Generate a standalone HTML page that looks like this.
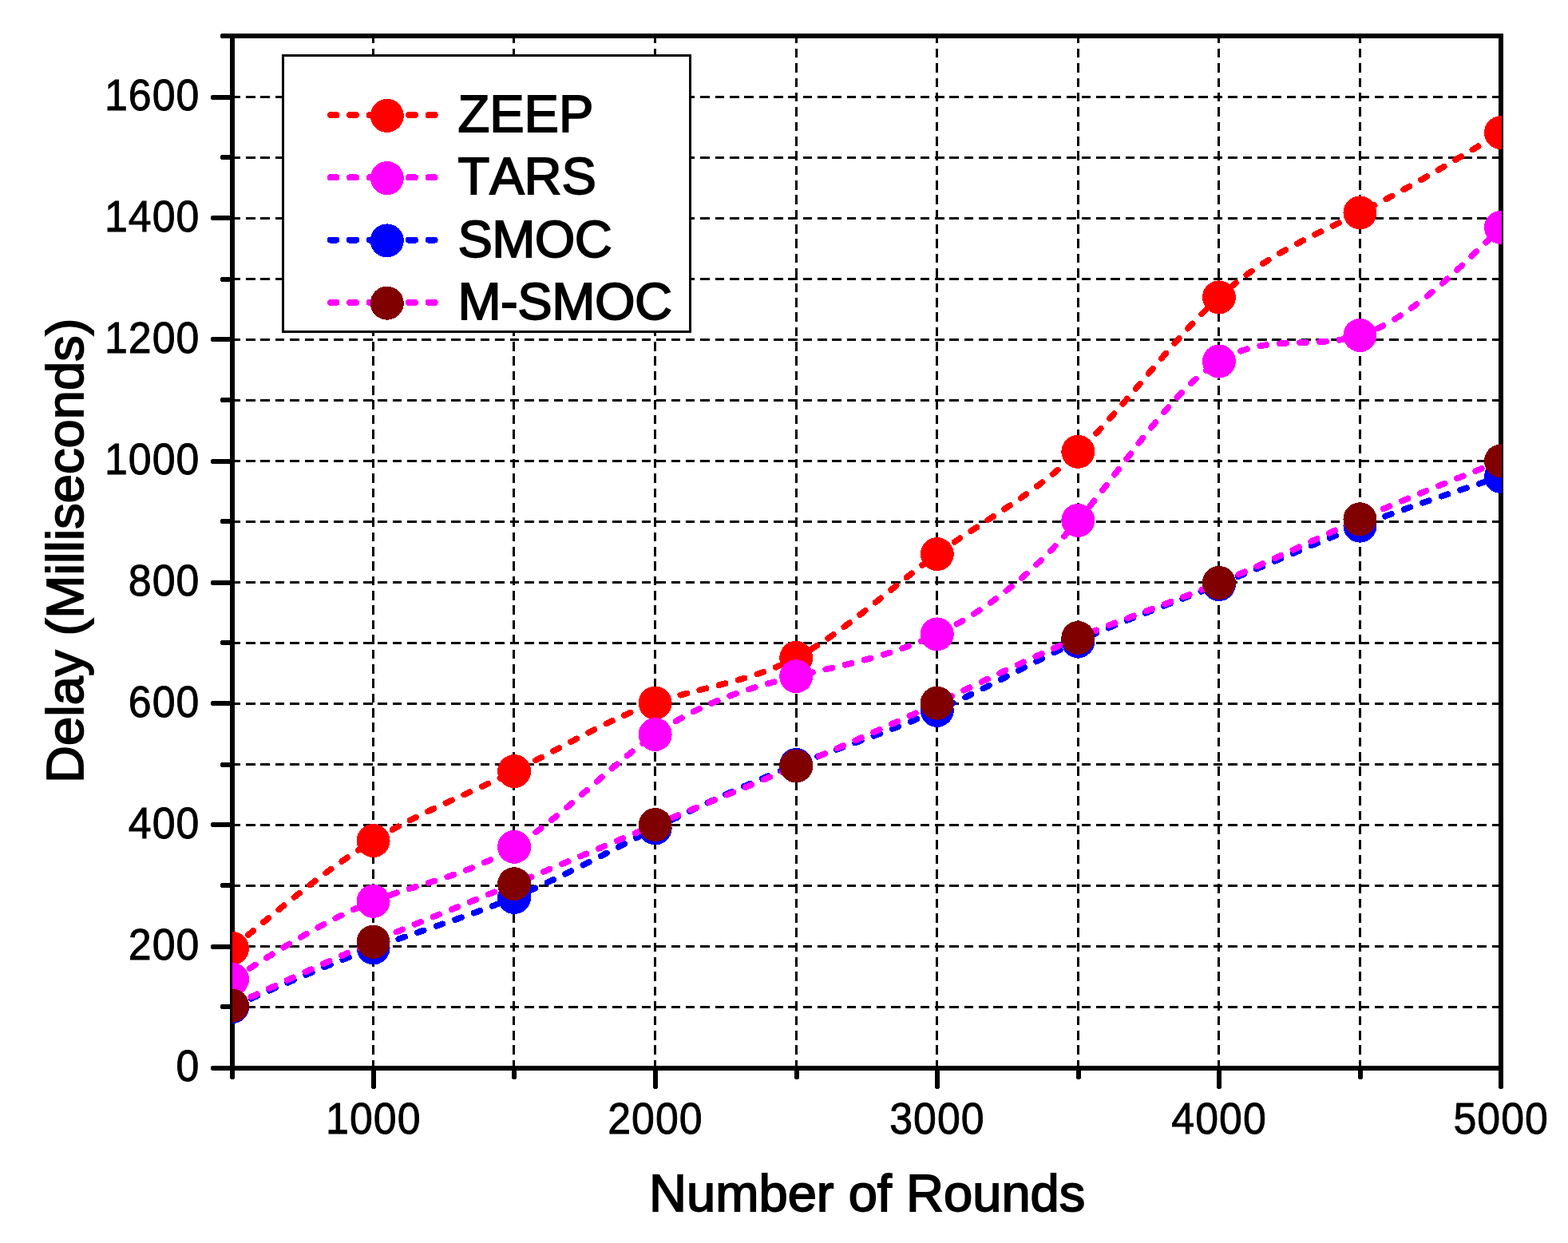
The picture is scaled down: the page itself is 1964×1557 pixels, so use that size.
<!DOCTYPE html>
<html lang="en"><head><meta charset="utf-8"><title>Delay vs Number of Rounds</title>
<style>html,body{margin:0;padding:0;background:#fff}body{width:1964px;height:1557px}svg{display:block}text{font-family:"Liberation Sans",sans-serif;fill:#000;stroke:#000;stroke-width:0.9;stroke-linejoin:miter;font-kerning:none;font-feature-settings:"kern" 0,"liga" 0;white-space:pre}</style>
</head><body>
<svg width="1964" height="1557" viewBox="0 0 1964 1557" shape-rendering="crispEdges">
<rect x="0" y="0" width="1964" height="1557" fill="#fff"/>
<defs><clipPath id="plot"><rect x="291" y="45" width="1590" height="1293"/></clipPath></defs>
<g stroke="#000" stroke-width="3" fill="none" stroke-dasharray="11.6 6.76">
<line x1="289.7" y1="1261.5" x2="1880" y2="1261.5"/>
<line x1="289.7" y1="1185.5" x2="1880" y2="1185.5"/>
<line x1="289.7" y1="1109.5" x2="1880" y2="1109.5"/>
<line x1="289.7" y1="1033.5" x2="1880" y2="1033.5"/>
<line x1="289.7" y1="957.5" x2="1880" y2="957.5"/>
<line x1="289.7" y1="881.5" x2="1880" y2="881.5"/>
<line x1="289.7" y1="805.5" x2="1880" y2="805.5"/>
<line x1="289.7" y1="729.5" x2="1880" y2="729.5"/>
<line x1="289.7" y1="653.5" x2="1880" y2="653.5"/>
<line x1="289.7" y1="577.5" x2="1880" y2="577.5"/>
<line x1="289.7" y1="501.5" x2="1880" y2="501.5"/>
<line x1="289.7" y1="425.5" x2="1880" y2="425.5"/>
<line x1="289.7" y1="349.5" x2="1880" y2="349.5"/>
<line x1="289.7" y1="273.5" x2="1880" y2="273.5"/>
<line x1="289.7" y1="197.5" x2="1880" y2="197.5"/>
<line x1="289.7" y1="121.5" x2="1880" y2="121.5"/>
<line x1="467.5" y1="42.45" x2="467.5" y2="1338"/>
<line x1="643.5" y1="42.45" x2="643.5" y2="1338"/>
<line x1="820.5" y1="42.45" x2="820.5" y2="1338"/>
<line x1="997.5" y1="42.45" x2="997.5" y2="1338"/>
<line x1="1173.5" y1="42.45" x2="1173.5" y2="1338"/>
<line x1="1350.5" y1="42.45" x2="1350.5" y2="1338"/>
<line x1="1526.5" y1="42.45" x2="1526.5" y2="1338"/>
<line x1="1703.5" y1="42.45" x2="1703.5" y2="1338"/>
</g>
<g stroke="#000" stroke-width="6" fill="none" stroke-linecap="butt">
<line x1="291" y1="42" x2="291" y2="1341"/>
<line x1="1880" y1="42" x2="1880" y2="1341"/>
<line x1="288" y1="45" x2="1883" y2="45"/>
<line x1="288" y1="1338" x2="1883" y2="1338"/>
</g>
<g stroke="#000" stroke-width="6" fill="none" stroke-linecap="round">
<line x1="291" y1="1338" x2="267" y2="1338"/>
<line x1="291" y1="1261" x2="279" y2="1261"/>
<line x1="291" y1="1186" x2="267" y2="1186"/>
<line x1="291" y1="1109" x2="279" y2="1109"/>
<line x1="291" y1="1033" x2="267" y2="1033"/>
<line x1="291" y1="958" x2="279" y2="958"/>
<line x1="291" y1="881" x2="267" y2="881"/>
<line x1="291" y1="805" x2="279" y2="805"/>
<line x1="291" y1="730" x2="267" y2="730"/>
<line x1="291" y1="653" x2="279" y2="653"/>
<line x1="291" y1="578" x2="267" y2="578"/>
<line x1="291" y1="501" x2="279" y2="501"/>
<line x1="291" y1="425" x2="267" y2="425"/>
<line x1="291" y1="350" x2="279" y2="350"/>
<line x1="291" y1="273" x2="267" y2="273"/>
<line x1="291" y1="197" x2="279" y2="197"/>
<line x1="291" y1="122" x2="267" y2="122"/>
<line x1="291" y1="45" x2="279" y2="45"/>
<line x1="291" y1="1338" x2="291" y2="1349.5"/>
<line x1="468" y1="1338" x2="468" y2="1361.5"/>
<line x1="644" y1="1338" x2="644" y2="1349.5"/>
<line x1="821" y1="1338" x2="821" y2="1361.5"/>
<line x1="998" y1="1338" x2="998" y2="1349.5"/>
<line x1="1174" y1="1338" x2="1174" y2="1361.5"/>
<line x1="1351" y1="1338" x2="1351" y2="1349.5"/>
<line x1="1527" y1="1338" x2="1527" y2="1361.5"/>
<line x1="1704" y1="1338" x2="1704" y2="1349.5"/>
<line x1="1880" y1="1338" x2="1880" y2="1361.5"/>
</g>
<g clip-path="url(#plot)">
<polyline points="291,1187.9 292.99,1186.23 294.97,1184.56 296.96,1182.89 298.94,1181.22 300.93,1179.55 302.92,1177.88 304.9,1176.21 306.89,1174.55 308.88,1172.88 310.86,1171.22 312.85,1169.55 314.83,1167.89 316.82,1166.23 318.81,1164.57 320.79,1162.91 322.78,1161.25 324.77,1159.6 326.75,1157.95 328.74,1156.3 330.73,1154.65 332.71,1153 334.7,1151.36 336.68,1149.72 338.67,1148.08 340.66,1146.45 342.64,1144.81 344.63,1143.18 346.62,1141.56 348.6,1139.93 350.59,1138.31 352.57,1136.7 354.56,1135.09 356.55,1133.48 358.53,1131.87 360.52,1130.27 362.5,1128.68 364.49,1127.08 366.48,1125.49 368.46,1123.91 370.45,1122.33 372.44,1120.76 374.42,1119.19 376.41,1117.62 378.39,1116.06 380.38,1114.51 382.37,1112.96 384.35,1111.41 386.34,1109.88 388.33,1108.34 390.31,1106.82 392.3,1105.29 394.28,1103.78 396.27,1102.27 398.26,1100.77 400.24,1099.27 402.23,1097.78 404.22,1096.3 406.2,1094.82 408.19,1093.35 410.18,1091.88 412.16,1090.43 414.15,1088.98 416.13,1087.54 418.12,1086.1 420.11,1084.67 422.09,1083.25 424.08,1081.84 426.06,1080.44 428.05,1079.04 430.04,1077.65 432.02,1076.27 434.01,1074.9 436,1073.54 437.98,1072.18 439.97,1070.84 441.96,1069.5 443.94,1068.17 445.93,1066.85 447.91,1065.54 449.9,1064.24 451.89,1062.95 453.87,1061.67 455.86,1060.39 457.85,1059.13 459.83,1057.88 461.82,1056.63 463.8,1055.4 465.79,1054.18 467.78,1052.97 469.76,1051.76 471.75,1050.57 473.74,1049.39 475.72,1048.22 477.71,1047.05 479.69,1045.9 481.68,1044.76 483.67,1043.62 485.65,1042.5 487.64,1041.38 489.62,1040.27 491.61,1039.17 493.6,1038.08 495.58,1036.99 497.57,1035.92 499.56,1034.85 501.54,1033.79 503.53,1032.74 505.51,1031.69 507.5,1030.65 509.49,1029.62 511.47,1028.6 513.46,1027.58 515.45,1026.56 517.43,1025.56 519.42,1024.56 521.4,1023.56 523.39,1022.57 525.38,1021.59 527.36,1020.61 529.35,1019.64 531.34,1018.67 533.32,1017.71 535.31,1016.75 537.3,1015.79 539.28,1014.84 541.27,1013.9 543.25,1012.95 545.24,1012.01 547.23,1011.08 549.21,1010.15 551.2,1009.22 553.18,1008.29 555.17,1007.37 557.16,1006.45 559.14,1005.53 561.13,1004.61 563.12,1003.7 565.1,1002.79 567.09,1001.88 569.08,1000.97 571.06,1000.06 573.05,999.16 575.03,998.25 577.02,997.35 579.01,996.45 580.99,995.54 582.98,994.64 584.97,993.74 586.95,992.84 588.94,991.94 590.92,991.03 592.91,990.13 594.9,989.23 596.88,988.32 598.87,987.42 600.86,986.51 602.84,985.6 604.83,984.69 606.81,983.78 608.8,982.86 610.79,981.95 612.77,981.03 614.76,980.11 616.75,979.19 618.73,978.26 620.72,977.33 622.7,976.4 624.69,975.46 626.68,974.52 628.66,973.58 630.65,972.63 632.63,971.68 634.62,970.73 636.61,969.77 638.59,968.8 640.58,967.83 642.57,966.86 644.55,965.88 646.54,964.9 648.53,963.91 650.51,962.91 652.5,961.92 654.48,960.91 656.47,959.91 658.46,958.89 660.44,957.88 662.43,956.86 664.41,955.84 666.4,954.81 668.39,953.78 670.37,952.75 672.36,951.72 674.35,950.68 676.33,949.64 678.32,948.6 680.31,947.56 682.29,946.51 684.28,945.46 686.26,944.42 688.25,943.37 690.24,942.32 692.22,941.27 694.21,940.21 696.19,939.16 698.18,938.11 700.17,937.06 702.15,936 704.14,934.95 706.13,933.9 708.11,932.85 710.1,931.8 712.09,930.75 714.07,929.7 716.06,928.65 718.04,927.61 720.03,926.57 722.02,925.53 724,924.49 725.99,923.45 727.98,922.42 729.96,921.39 731.95,920.36 733.93,919.33 735.92,918.31 737.91,917.3 739.89,916.28 741.88,915.27 743.87,914.26 745.85,913.26 747.84,912.27 749.82,911.27 751.81,910.29 753.8,909.3 755.78,908.33 757.77,907.35 759.75,906.39 761.74,905.43 763.73,904.47 765.71,903.52 767.7,902.58 769.69,901.65 771.67,900.72 773.66,899.8 775.64,898.88 777.63,897.98 779.62,897.08 781.6,896.19 783.59,895.3 785.58,894.43 787.56,893.56 789.55,892.7 791.54,891.85 793.52,891.01 795.51,890.18 797.49,889.35 799.48,888.54 801.47,887.74 803.45,886.94 805.44,886.16 807.43,885.38 809.41,884.62 811.4,883.87 813.38,883.13 815.37,882.39 817.36,881.67 819.34,880.97 821.33,880.27 823.32,879.58 825.3,878.91 827.29,878.25 829.27,877.59 831.26,876.95 833.25,876.32 835.23,875.69 837.22,875.08 839.21,874.47 841.19,873.88 843.18,873.29 845.16,872.7 847.15,872.13 849.14,871.56 851.12,871 853.11,870.45 855.1,869.9 857.08,869.36 859.07,868.82 861.05,868.29 863.04,867.76 865.03,867.24 867.01,866.72 869,866.2 870.99,865.69 872.97,865.18 874.96,864.67 876.94,864.16 878.93,863.66 880.92,863.16 882.9,862.65 884.89,862.15 886.88,861.65 888.86,861.15 890.85,860.65 892.83,860.15 894.82,859.65 896.81,859.14 898.79,858.64 900.78,858.13 902.76,857.62 904.75,857.11 906.74,856.59 908.72,856.07 910.71,855.55 912.7,855.02 914.68,854.49 916.67,853.95 918.65,853.41 920.64,852.86 922.63,852.31 924.61,851.75 926.6,851.18 928.59,850.61 930.57,850.03 932.56,849.44 934.55,848.84 936.53,848.24 938.52,847.63 940.5,847 942.49,846.37 944.48,845.73 946.46,845.08 948.45,844.42 950.44,843.74 952.42,843.06 954.41,842.36 956.39,841.65 958.38,840.93 960.37,840.2 962.35,839.46 964.34,838.7 966.33,837.93 968.31,837.14 970.3,836.34 972.28,835.52 974.27,834.69 976.26,833.85 978.24,832.99 980.23,832.11 982.22,831.22 984.2,830.31 986.19,829.38 988.17,828.43 990.16,827.47 992.15,826.49 994.13,825.49 996.12,824.47 998.11,823.44 1000.09,822.38 1002.08,821.3 1004.06,820.21 1006.05,819.1 1008.04,817.97 1010.02,816.82 1012.01,815.66 1014,814.47 1015.98,813.28 1017.97,812.06 1019.95,810.83 1021.94,809.58 1023.93,808.32 1025.91,807.05 1027.9,805.76 1029.88,804.45 1031.87,803.13 1033.86,801.8 1035.84,800.45 1037.83,799.09 1039.82,797.72 1041.8,796.34 1043.79,794.95 1045.78,793.54 1047.76,792.12 1049.75,790.69 1051.73,789.25 1053.72,787.8 1055.71,786.34 1057.69,784.87 1059.68,783.39 1061.66,781.91 1063.65,780.41 1065.64,778.91 1067.62,777.4 1069.61,775.88 1071.6,774.35 1073.58,772.82 1075.57,771.28 1077.56,769.73 1079.54,768.18 1081.53,766.62 1083.51,765.06 1085.5,763.49 1087.49,761.92 1089.47,760.34 1091.46,758.76 1093.45,757.18 1095.43,755.59 1097.42,754 1099.4,752.41 1101.39,750.81 1103.38,749.21 1105.36,747.62 1107.35,746.02 1109.34,744.42 1111.32,742.81 1113.31,741.21 1115.29,739.61 1117.28,738.01 1119.27,736.41 1121.25,734.81 1123.24,733.22 1125.22,731.62 1127.21,730.03 1129.2,728.44 1131.18,726.85 1133.17,725.26 1135.16,723.68 1137.14,722.11 1139.13,720.53 1141.12,718.96 1143.1,717.4 1145.09,715.84 1147.07,714.29 1149.06,712.74 1151.05,711.2 1153.03,709.66 1155.02,708.13 1157.01,706.61 1158.99,705.1 1160.98,703.59 1162.96,702.1 1164.95,700.61 1166.94,699.13 1168.92,697.66 1170.91,696.19 1172.89,694.74 1174.88,693.3 1176.87,691.87 1178.85,690.45 1180.84,689.03 1182.83,687.63 1184.81,686.24 1186.8,684.85 1188.79,683.47 1190.77,682.1 1192.76,680.74 1194.74,679.38 1196.73,678.03 1198.72,676.69 1200.7,675.35 1202.69,674.02 1204.68,672.69 1206.66,671.37 1208.65,670.05 1210.63,668.74 1212.62,667.43 1214.61,666.12 1216.59,664.82 1218.58,663.52 1220.57,662.22 1222.55,660.93 1224.54,659.63 1226.52,658.34 1228.51,657.05 1230.5,655.76 1232.48,654.47 1234.47,653.18 1236.45,651.89 1238.44,650.6 1240.43,649.3 1242.41,648.01 1244.4,646.72 1246.39,645.42 1248.37,644.12 1250.36,642.82 1252.35,641.51 1254.33,640.2 1256.32,638.89 1258.3,637.57 1260.29,636.25 1262.28,634.92 1264.26,633.59 1266.25,632.25 1268.24,630.91 1270.22,629.56 1272.21,628.2 1274.19,626.84 1276.18,625.47 1278.17,624.09 1280.15,622.7 1282.14,621.31 1284.12,619.91 1286.11,618.49 1288.1,617.07 1290.08,615.64 1292.07,614.2 1294.06,612.75 1296.04,611.28 1298.03,609.81 1300.01,608.32 1302,606.83 1303.99,605.32 1305.97,603.8 1307.96,602.26 1309.95,600.71 1311.93,599.15 1313.92,597.57 1315.9,595.98 1317.89,594.38 1319.88,592.76 1321.86,591.13 1323.85,589.48 1325.84,587.81 1327.82,586.13 1329.81,584.43 1331.8,582.71 1333.78,580.97 1335.77,579.22 1337.75,577.45 1339.74,575.66 1341.73,573.86 1343.71,572.03 1345.7,570.18 1347.68,568.32 1349.67,566.43 1351.66,564.53 1353.64,562.6 1355.63,560.65 1357.62,558.69 1359.6,556.7 1361.59,554.7 1363.58,552.68 1365.56,550.64 1367.55,548.58 1369.53,546.51 1371.52,544.42 1373.51,542.32 1375.49,540.2 1377.48,538.07 1379.47,535.92 1381.45,533.76 1383.44,531.59 1385.42,529.41 1387.41,527.21 1389.4,525 1391.38,522.78 1393.37,520.55 1395.36,518.31 1397.34,516.06 1399.33,513.8 1401.31,511.53 1403.3,509.25 1405.29,506.97 1407.27,504.68 1409.26,502.38 1411.25,500.08 1413.23,497.77 1415.22,495.46 1417.2,493.14 1419.19,490.82 1421.18,488.49 1423.16,486.16 1425.15,483.83 1427.13,481.49 1429.12,479.16 1431.11,476.82 1433.09,474.48 1435.08,472.14 1437.07,469.8 1439.05,467.47 1441.04,465.13 1443.03,462.8 1445.01,460.46 1447,458.13 1448.98,455.81 1450.97,453.48 1452.96,451.17 1454.94,448.85 1456.93,446.54 1458.91,444.24 1460.9,441.94 1462.89,439.65 1464.87,437.37 1466.86,435.09 1468.85,432.83 1470.83,430.57 1472.82,428.32 1474.81,426.08 1476.79,423.85 1478.78,421.63 1480.76,419.42 1482.75,417.22 1484.74,415.04 1486.72,412.87 1488.71,410.71 1490.69,408.56 1492.68,406.43 1494.67,404.31 1496.65,402.21 1498.64,400.12 1500.63,398.05 1502.61,396 1504.6,393.96 1506.59,391.94 1508.57,389.94 1510.56,387.95 1512.54,385.99 1514.53,384.04 1516.52,382.12 1518.5,380.21 1520.49,378.33 1522.48,376.46 1524.46,374.62 1526.45,372.8 1528.43,371 1530.42,369.23 1532.41,367.48 1534.39,365.75 1536.38,364.04 1538.37,362.36 1540.35,360.69 1542.34,359.05 1544.32,357.42 1546.31,355.82 1548.3,354.24 1550.28,352.67 1552.27,351.13 1554.26,349.6 1556.24,348.1 1558.23,346.61 1560.21,345.14 1562.2,343.68 1564.19,342.25 1566.17,340.83 1568.16,339.43 1570.14,338.04 1572.13,336.67 1574.12,335.32 1576.1,333.98 1578.09,332.66 1580.08,331.35 1582.06,330.06 1584.05,328.78 1586.04,327.51 1588.02,326.26 1590.01,325.03 1591.99,323.8 1593.98,322.59 1595.97,321.39 1597.95,320.2 1599.94,319.03 1601.92,317.86 1603.91,316.71 1605.9,315.57 1607.88,314.44 1609.87,313.32 1611.86,312.21 1613.84,311.11 1615.83,310.01 1617.82,308.93 1619.8,307.86 1621.79,306.79 1623.77,305.73 1625.76,304.68 1627.75,303.64 1629.73,302.61 1631.72,301.58 1633.71,300.56 1635.69,299.54 1637.68,298.53 1639.66,297.53 1641.65,296.53 1643.64,295.53 1645.62,294.54 1647.61,293.56 1649.6,292.58 1651.58,291.6 1653.57,290.63 1655.55,289.66 1657.54,288.69 1659.53,287.73 1661.51,286.76 1663.5,285.8 1665.49,284.84 1667.47,283.89 1669.46,282.93 1671.44,281.97 1673.43,281.02 1675.42,280.06 1677.4,279.11 1679.39,278.15 1681.38,277.19 1683.36,276.23 1685.35,275.27 1687.33,274.31 1689.32,273.35 1691.31,272.38 1693.29,271.41 1695.28,270.44 1697.27,269.46 1699.25,268.48 1701.24,267.5 1703.22,266.51 1705.21,265.52 1707.2,264.52 1709.18,263.52 1711.17,262.51 1713.15,261.5 1715.14,260.49 1717.13,259.47 1719.11,258.44 1721.1,257.42 1723.09,256.38 1725.07,255.35 1727.06,254.31 1729.05,253.26 1731.03,252.22 1733.02,251.16 1735,250.11 1736.99,249.05 1738.98,247.98 1740.96,246.92 1742.95,245.85 1744.93,244.77 1746.92,243.69 1748.91,242.61 1750.89,241.53 1752.88,240.44 1754.87,239.35 1756.85,238.25 1758.84,237.15 1760.83,236.05 1762.81,234.95 1764.8,233.84 1766.78,232.73 1768.77,231.61 1770.76,230.5 1772.74,229.38 1774.73,228.26 1776.72,227.13 1778.7,226 1780.69,224.87 1782.67,223.74 1784.66,222.6 1786.65,221.47 1788.63,220.32 1790.62,219.18 1792.61,218.04 1794.59,216.89 1796.58,215.74 1798.56,214.59 1800.55,213.43 1802.54,212.28 1804.52,211.12 1806.51,209.96 1808.5,208.79 1810.48,207.63 1812.47,206.46 1814.45,205.3 1816.44,204.13 1818.43,202.95 1820.41,201.78 1822.4,200.61 1824.38,199.43 1826.37,198.25 1828.36,197.07 1830.34,195.89 1832.33,194.71 1834.32,193.53 1836.3,192.35 1838.29,191.16 1840.28,189.97 1842.26,188.79 1844.25,187.6 1846.23,186.41 1848.22,185.22 1850.21,184.03 1852.19,182.84 1854.18,181.64 1856.16,180.45 1858.15,179.26 1860.14,178.06 1862.12,176.87 1864.11,175.67 1866.1,174.48 1868.08,173.28 1870.07,172.09 1872.06,170.89 1874.04,169.69 1876.03,168.49 1878.01,167.3 1880,166.1" fill="none" stroke="#ff0000" stroke-width="7.7" stroke-linecap="round" stroke-linejoin="round" stroke-dasharray="8.3 16.62" stroke-dashoffset="-0.85"/>
<circle cx="291" cy="1187.9" r="21" fill="#ff0000"/>
<circle cx="467.56" cy="1053.1" r="21" fill="#ff0000"/>
<circle cx="644.11" cy="966.1" r="21" fill="#ff0000"/>
<circle cx="820.67" cy="880.5" r="21" fill="#ff0000"/>
<circle cx="997.22" cy="823.9" r="21" fill="#ff0000"/>
<circle cx="1173.78" cy="694.1" r="21" fill="#ff0000"/>
<circle cx="1350.33" cy="565.8" r="21" fill="#ff0000"/>
<circle cx="1526.89" cy="372.4" r="21" fill="#ff0000"/>
<circle cx="1703.44" cy="266.4" r="21" fill="#ff0000"/>
<circle cx="1880" cy="166.1" r="21" fill="#ff0000"/>
<polyline points="291,1226.8 292.99,1225.54 294.97,1224.28 296.96,1223.01 298.94,1221.75 300.93,1220.49 302.92,1219.23 304.9,1217.97 306.89,1216.71 308.88,1215.45 310.86,1214.2 312.85,1212.94 314.83,1211.68 316.82,1210.43 318.81,1209.18 320.79,1207.93 322.78,1206.68 324.77,1205.44 326.75,1204.19 328.74,1202.95 330.73,1201.71 332.71,1200.48 334.7,1199.24 336.68,1198.01 338.67,1196.78 340.66,1195.56 342.64,1194.33 344.63,1193.11 346.62,1191.9 348.6,1190.68 350.59,1189.47 352.57,1188.27 354.56,1187.07 356.55,1185.87 358.53,1184.68 360.52,1183.49 362.5,1182.3 364.49,1181.12 366.48,1179.94 368.46,1178.77 370.45,1177.6 372.44,1176.44 374.42,1175.28 376.41,1174.13 378.39,1172.99 380.38,1171.84 382.37,1170.71 384.35,1169.58 386.34,1168.45 388.33,1167.34 390.31,1166.22 392.3,1165.12 394.28,1164.02 396.27,1162.92 398.26,1161.83 400.24,1160.75 402.23,1159.68 404.22,1158.61 406.2,1157.55 408.19,1156.5 410.18,1155.45 412.16,1154.41 414.15,1153.38 416.13,1152.36 418.12,1151.34 420.11,1150.34 422.09,1149.34 424.08,1148.34 426.06,1147.36 428.05,1146.39 430.04,1145.42 432.02,1144.46 434.01,1143.51 436,1142.57 437.98,1141.64 439.97,1140.71 441.96,1139.8 443.94,1138.9 445.93,1138 447.91,1137.12 449.9,1136.24 451.89,1135.37 453.87,1134.52 455.86,1133.67 457.85,1132.84 459.83,1132.01 461.82,1131.2 463.8,1130.39 465.79,1129.6 467.78,1128.81 469.76,1128.04 471.75,1127.28 473.74,1126.53 475.72,1125.79 477.71,1125.05 479.69,1124.33 481.68,1123.61 483.67,1122.91 485.65,1122.21 487.64,1121.52 489.62,1120.83 491.61,1120.16 493.6,1119.49 495.58,1118.82 497.57,1118.16 499.56,1117.51 501.54,1116.86 503.53,1116.22 505.51,1115.58 507.5,1114.95 509.49,1114.32 511.47,1113.69 513.46,1113.07 515.45,1112.44 517.43,1111.82 519.42,1111.21 521.4,1110.59 523.39,1109.98 525.38,1109.36 527.36,1108.75 529.35,1108.13 531.34,1107.52 533.32,1106.91 535.31,1106.29 537.3,1105.67 539.28,1105.06 541.27,1104.44 543.25,1103.81 545.24,1103.19 547.23,1102.56 549.21,1101.93 551.2,1101.29 553.18,1100.65 555.17,1100.01 557.16,1099.36 559.14,1098.7 561.13,1098.04 563.12,1097.38 565.1,1096.7 567.09,1096.03 569.08,1095.34 571.06,1094.65 573.05,1093.94 575.03,1093.24 577.02,1092.52 579.01,1091.79 580.99,1091.05 582.98,1090.31 584.97,1089.55 586.95,1088.79 588.94,1088.01 590.92,1087.23 592.91,1086.43 594.9,1085.62 596.88,1084.8 598.87,1083.96 600.86,1083.11 602.84,1082.25 604.83,1081.38 606.81,1080.49 608.8,1079.59 610.79,1078.67 612.77,1077.74 614.76,1076.8 616.75,1075.83 618.73,1074.86 620.72,1073.86 622.7,1072.85 624.69,1071.82 626.68,1070.78 628.66,1069.71 630.65,1068.63 632.63,1067.53 634.62,1066.42 636.61,1065.28 638.59,1064.12 640.58,1062.94 642.57,1061.75 644.55,1060.53 646.54,1059.29 648.53,1058.03 650.51,1056.75 652.5,1055.45 654.48,1054.13 656.47,1052.8 658.46,1051.44 660.44,1050.07 662.43,1048.68 664.41,1047.28 666.4,1045.85 668.39,1044.41 670.37,1042.96 672.36,1041.49 674.35,1040.01 676.33,1038.51 678.32,1036.99 680.31,1035.47 682.29,1033.93 684.28,1032.38 686.26,1030.81 688.25,1029.24 690.24,1027.65 692.22,1026.05 694.21,1024.44 696.19,1022.83 698.18,1021.2 700.17,1019.56 702.15,1017.92 704.14,1016.26 706.13,1014.6 708.11,1012.93 710.1,1011.25 712.09,1009.57 714.07,1007.88 716.06,1006.19 718.04,1004.49 720.03,1002.78 722.02,1001.07 724,999.36 725.99,997.64 727.98,995.92 729.96,994.2 731.95,992.48 733.93,990.75 735.92,989.02 737.91,987.29 739.89,985.57 741.88,983.84 743.87,982.11 745.85,980.38 747.84,978.65 749.82,976.93 751.81,975.2 753.8,973.48 755.78,971.76 757.77,970.05 759.75,968.34 761.74,966.63 763.73,964.93 765.71,963.23 767.7,961.54 769.69,959.86 771.67,958.18 773.66,956.51 775.64,954.84 777.63,953.18 779.62,951.54 781.6,949.89 783.59,948.26 785.58,946.64 787.56,945.03 789.55,943.43 791.54,941.84 793.52,940.26 795.51,938.69 797.49,937.13 799.48,935.59 801.47,934.05 803.45,932.54 805.44,931.03 807.43,929.54 809.41,928.07 811.4,926.61 813.38,925.16 815.37,923.73 817.36,922.32 819.34,920.92 821.33,919.54 823.32,918.18 825.3,916.84 827.29,915.51 829.27,914.2 831.26,912.9 833.25,911.63 835.23,910.37 837.22,909.12 839.21,907.89 841.19,906.68 843.18,905.48 845.16,904.3 847.15,903.14 849.14,901.99 851.12,900.85 853.11,899.73 855.1,898.62 857.08,897.53 859.07,896.45 861.05,895.39 863.04,894.34 865.03,893.31 867.01,892.29 869,891.28 870.99,890.29 872.97,889.31 874.96,888.34 876.94,887.38 878.93,886.44 880.92,885.51 882.9,884.6 884.89,883.69 886.88,882.8 888.86,881.92 890.85,881.05 892.83,880.19 894.82,879.35 896.81,878.51 898.79,877.69 900.78,876.87 902.76,876.07 904.75,875.28 906.74,874.5 908.72,873.73 910.71,872.97 912.7,872.22 914.68,871.48 916.67,870.75 918.65,870.03 920.64,869.31 922.63,868.61 924.61,867.91 926.6,867.23 928.59,866.55 930.57,865.88 932.56,865.22 934.55,864.57 936.53,863.93 938.52,863.29 940.5,862.66 942.49,862.04 944.48,861.43 946.46,860.82 948.45,860.22 950.44,859.63 952.42,859.04 954.41,858.46 956.39,857.88 958.38,857.32 960.37,856.75 962.35,856.2 964.34,855.65 966.33,855.1 968.31,854.56 970.3,854.03 972.28,853.5 974.27,852.97 976.26,852.45 978.24,851.94 980.23,851.43 982.22,850.92 984.2,850.41 986.19,849.91 988.17,849.42 990.16,848.93 992.15,848.44 994.13,847.95 996.12,847.47 998.11,846.99 1000.09,846.51 1002.08,846.03 1004.06,845.56 1006.05,845.09 1008.04,844.62 1010.02,844.15 1012.01,843.69 1014,843.22 1015.98,842.76 1017.97,842.3 1019.95,841.84 1021.94,841.38 1023.93,840.92 1025.91,840.46 1027.9,840 1029.88,839.54 1031.87,839.08 1033.86,838.62 1035.84,838.15 1037.83,837.69 1039.82,837.23 1041.8,836.77 1043.79,836.3 1045.78,835.84 1047.76,835.37 1049.75,834.9 1051.73,834.43 1053.72,833.95 1055.71,833.47 1057.69,833 1059.68,832.51 1061.66,832.03 1063.65,831.54 1065.64,831.05 1067.62,830.56 1069.61,830.06 1071.6,829.56 1073.58,829.05 1075.57,828.54 1077.56,828.03 1079.54,827.51 1081.53,826.99 1083.51,826.46 1085.5,825.93 1087.49,825.39 1089.47,824.84 1091.46,824.3 1093.45,823.74 1095.43,823.18 1097.42,822.61 1099.4,822.04 1101.39,821.46 1103.38,820.87 1105.36,820.28 1107.35,819.68 1109.34,819.08 1111.32,818.46 1113.31,817.84 1115.29,817.21 1117.28,816.57 1119.27,815.93 1121.25,815.27 1123.24,814.61 1125.22,813.94 1127.21,813.26 1129.2,812.57 1131.18,811.88 1133.17,811.17 1135.16,810.45 1137.14,809.73 1139.13,808.99 1141.12,808.25 1143.1,807.49 1145.09,806.73 1147.07,805.95 1149.06,805.16 1151.05,804.36 1153.03,803.55 1155.02,802.73 1157.01,801.9 1158.99,801.06 1160.98,800.2 1162.96,799.34 1164.95,798.46 1166.94,797.57 1168.92,796.66 1170.91,795.75 1172.89,794.82 1174.88,793.87 1176.87,792.92 1178.85,791.95 1180.84,790.97 1182.83,789.97 1184.81,788.97 1186.8,787.94 1188.79,786.91 1190.77,785.86 1192.76,784.8 1194.74,783.72 1196.73,782.63 1198.72,781.53 1200.7,780.41 1202.69,779.28 1204.68,778.13 1206.66,776.97 1208.65,775.8 1210.63,774.61 1212.62,773.41 1214.61,772.19 1216.59,770.96 1218.58,769.72 1220.57,768.46 1222.55,767.18 1224.54,765.89 1226.52,764.59 1228.51,763.27 1230.5,761.94 1232.48,760.59 1234.47,759.23 1236.45,757.85 1238.44,756.46 1240.43,755.05 1242.41,753.63 1244.4,752.19 1246.39,750.74 1248.37,749.27 1250.36,747.79 1252.35,746.29 1254.33,744.78 1256.32,743.25 1258.3,741.7 1260.29,740.14 1262.28,738.56 1264.26,736.97 1266.25,735.36 1268.24,733.74 1270.22,732.1 1272.21,730.44 1274.19,728.77 1276.18,727.08 1278.17,725.37 1280.15,723.65 1282.14,721.91 1284.12,720.16 1286.11,718.39 1288.1,716.6 1290.08,714.8 1292.07,712.98 1294.06,711.14 1296.04,709.29 1298.03,707.42 1300.01,705.53 1302,703.63 1303.99,701.7 1305.97,699.77 1307.96,697.81 1309.95,695.84 1311.93,693.85 1313.92,691.84 1315.9,689.82 1317.89,687.77 1319.88,685.71 1321.86,683.64 1323.85,681.54 1325.84,679.43 1327.82,677.3 1329.81,675.15 1331.8,672.99 1333.78,670.8 1335.77,668.6 1337.75,666.38 1339.74,664.14 1341.73,661.89 1343.71,659.61 1345.7,657.32 1347.68,655.01 1349.67,652.68 1351.66,650.33 1353.64,647.97 1355.63,645.58 1357.62,643.18 1359.6,640.77 1361.59,638.34 1363.58,635.89 1365.56,633.43 1367.55,630.96 1369.53,628.48 1371.52,625.98 1373.51,623.47 1375.49,620.96 1377.48,618.43 1379.47,615.89 1381.45,613.35 1383.44,610.8 1385.42,608.24 1387.41,605.68 1389.4,603.11 1391.38,600.53 1393.37,597.95 1395.36,595.37 1397.34,592.79 1399.33,590.2 1401.31,587.61 1403.3,585.03 1405.29,582.44 1407.27,579.85 1409.26,577.27 1411.25,574.68 1413.23,572.1 1415.22,569.53 1417.2,566.96 1419.19,564.39 1421.18,561.83 1423.16,559.27 1425.15,556.73 1427.13,554.19 1429.12,551.66 1431.11,549.14 1433.09,546.63 1435.08,544.13 1437.07,541.64 1439.05,539.16 1441.04,536.7 1443.03,534.25 1445.01,531.81 1447,529.39 1448.98,526.98 1450.97,524.6 1452.96,522.22 1454.94,519.87 1456.93,517.53 1458.91,515.22 1460.9,512.92 1462.89,510.65 1464.87,508.39 1466.86,506.16 1468.85,503.95 1470.83,501.76 1472.82,499.6 1474.81,497.46 1476.79,495.35 1478.78,493.26 1480.76,491.2 1482.75,489.17 1484.74,487.17 1486.72,485.19 1488.71,483.25 1490.69,481.33 1492.68,479.45 1494.67,477.6 1496.65,475.78 1498.64,473.99 1500.63,472.24 1502.61,470.53 1504.6,468.84 1506.59,467.2 1508.57,465.59 1510.56,464.02 1512.54,462.48 1514.53,460.99 1516.52,459.53 1518.5,458.12 1520.49,456.74 1522.48,455.41 1524.46,454.12 1526.45,452.87 1528.43,451.67 1530.42,450.51 1532.41,449.39 1534.39,448.31 1536.38,447.28 1538.37,446.28 1540.35,445.32 1542.34,444.4 1544.32,443.52 1546.31,442.68 1548.3,441.87 1550.28,441.09 1552.27,440.35 1554.26,439.65 1556.24,438.97 1558.23,438.33 1560.21,437.72 1562.2,437.13 1564.19,436.58 1566.17,436.05 1568.16,435.56 1570.14,435.08 1572.13,434.64 1574.12,434.22 1576.1,433.82 1578.09,433.45 1580.08,433.09 1582.06,432.76 1584.05,432.46 1586.04,432.17 1588.02,431.89 1590.01,431.64 1591.99,431.41 1593.98,431.19 1595.97,430.98 1597.95,430.8 1599.94,430.62 1601.92,430.46 1603.91,430.31 1605.9,430.17 1607.88,430.05 1609.87,429.93 1611.86,429.82 1613.84,429.72 1615.83,429.63 1617.82,429.54 1619.8,429.46 1621.79,429.39 1623.77,429.31 1625.76,429.25 1627.75,429.18 1629.73,429.11 1631.72,429.05 1633.71,428.98 1635.69,428.92 1637.68,428.85 1639.66,428.78 1641.65,428.71 1643.64,428.63 1645.62,428.54 1647.61,428.45 1649.6,428.36 1651.58,428.25 1653.57,428.14 1655.55,428.02 1657.54,427.88 1659.53,427.74 1661.51,427.58 1663.5,427.42 1665.49,427.23 1667.47,427.04 1669.46,426.82 1671.44,426.6 1673.43,426.35 1675.42,426.09 1677.4,425.81 1679.39,425.5 1681.38,425.18 1683.36,424.84 1685.35,424.48 1687.33,424.09 1689.32,423.68 1691.31,423.24 1693.29,422.78 1695.28,422.29 1697.27,421.78 1699.25,421.24 1701.24,420.67 1703.22,420.07 1705.21,419.44 1707.2,418.78 1709.18,418.09 1711.17,417.37 1713.15,416.62 1715.14,415.84 1717.13,415.04 1719.11,414.2 1721.1,413.34 1723.09,412.45 1725.07,411.54 1727.06,410.59 1729.05,409.63 1731.03,408.63 1733.02,407.61 1735,406.56 1736.99,405.49 1738.98,404.4 1740.96,403.28 1742.95,402.13 1744.93,400.97 1746.92,399.77 1748.91,398.56 1750.89,397.32 1752.88,396.07 1754.87,394.79 1756.85,393.48 1758.84,392.16 1760.83,390.82 1762.81,389.45 1764.8,388.07 1766.78,386.66 1768.77,385.24 1770.76,383.79 1772.74,382.33 1774.73,380.85 1776.72,379.35 1778.7,377.84 1780.69,376.3 1782.67,374.75 1784.66,373.18 1786.65,371.6 1788.63,370 1790.62,368.38 1792.61,366.75 1794.59,365.1 1796.58,363.44 1798.56,361.76 1800.55,360.07 1802.54,358.37 1804.52,356.65 1806.51,354.92 1808.5,353.18 1810.48,351.43 1812.47,349.66 1814.45,347.88 1816.44,346.09 1818.43,344.29 1820.41,342.48 1822.4,340.66 1824.38,338.83 1826.37,336.98 1828.36,335.13 1830.34,333.27 1832.33,331.41 1834.32,329.53 1836.3,327.65 1838.29,325.76 1840.28,323.86 1842.26,321.95 1844.25,320.04 1846.23,318.12 1848.22,316.2 1850.21,314.27 1852.19,312.33 1854.18,310.39 1856.16,308.45 1858.15,306.5 1860.14,304.55 1862.12,302.59 1864.11,300.64 1866.1,298.67 1868.08,296.71 1870.07,294.75 1872.06,292.78 1874.04,290.81 1876.03,288.84 1878.01,286.87 1880,284.9" fill="none" stroke="#ff00ff" stroke-width="7.7" stroke-linecap="round" stroke-linejoin="round" stroke-dasharray="8.3 16.62" stroke-dashoffset="-0.85"/>
<circle cx="291" cy="1226.8" r="21" fill="#ff00ff"/>
<circle cx="467.56" cy="1128.9" r="21" fill="#ff00ff"/>
<circle cx="644.11" cy="1060.8" r="21" fill="#ff00ff"/>
<circle cx="820.67" cy="920" r="21" fill="#ff00ff"/>
<circle cx="997.22" cy="847.2" r="21" fill="#ff00ff"/>
<circle cx="1173.78" cy="794.4" r="21" fill="#ff00ff"/>
<circle cx="1350.33" cy="651.9" r="21" fill="#ff00ff"/>
<circle cx="1526.89" cy="452.6" r="21" fill="#ff00ff"/>
<circle cx="1703.44" cy="420" r="21" fill="#ff00ff"/>
<circle cx="1880" cy="284.9" r="21" fill="#ff00ff"/>
<polyline points="291,1261.3 292.99,1260.42 294.97,1259.54 296.96,1258.66 298.94,1257.78 300.93,1256.9 302.92,1256.02 304.9,1255.14 306.89,1254.26 308.88,1253.38 310.86,1252.5 312.85,1251.62 314.83,1250.75 316.82,1249.87 318.81,1248.99 320.79,1248.12 322.78,1247.24 324.77,1246.36 326.75,1245.49 328.74,1244.62 330.73,1243.74 332.71,1242.87 334.7,1242 336.68,1241.13 338.67,1240.26 340.66,1239.39 342.64,1238.52 344.63,1237.65 346.62,1236.79 348.6,1235.92 350.59,1235.06 352.57,1234.2 354.56,1233.34 356.55,1232.48 358.53,1231.62 360.52,1230.76 362.5,1229.9 364.49,1229.05 366.48,1228.19 368.46,1227.34 370.45,1226.49 372.44,1225.64 374.42,1224.79 376.41,1223.95 378.39,1223.1 380.38,1222.26 382.37,1221.42 384.35,1220.58 386.34,1219.74 388.33,1218.91 390.31,1218.07 392.3,1217.24 394.28,1216.41 396.27,1215.58 398.26,1214.76 400.24,1213.93 402.23,1213.11 404.22,1212.29 406.2,1211.48 408.19,1210.66 410.18,1209.85 412.16,1209.04 414.15,1208.23 416.13,1207.42 418.12,1206.62 420.11,1205.82 422.09,1205.02 424.08,1204.22 426.06,1203.43 428.05,1202.64 430.04,1201.85 432.02,1201.06 434.01,1200.28 436,1199.5 437.98,1198.72 439.97,1197.95 441.96,1197.18 443.94,1196.41 445.93,1195.64 447.91,1194.88 449.9,1194.12 451.89,1193.36 453.87,1192.61 455.86,1191.86 457.85,1191.11 459.83,1190.36 461.82,1189.62 463.8,1188.88 465.79,1188.15 467.78,1187.42 469.76,1186.69 471.75,1185.97 473.74,1185.24 475.72,1184.53 477.71,1183.81 479.69,1183.1 481.68,1182.39 483.67,1181.68 485.65,1180.98 487.64,1180.27 489.62,1179.57 491.61,1178.88 493.6,1178.18 495.58,1177.49 497.57,1176.8 499.56,1176.11 501.54,1175.42 503.53,1174.73 505.51,1174.05 507.5,1173.36 509.49,1172.68 511.47,1172 513.46,1171.32 515.45,1170.64 517.43,1169.97 519.42,1169.29 521.4,1168.61 523.39,1167.94 525.38,1167.26 527.36,1166.59 529.35,1165.91 531.34,1165.24 533.32,1164.56 535.31,1163.89 537.3,1163.22 539.28,1162.54 541.27,1161.87 543.25,1161.19 545.24,1160.52 547.23,1159.84 549.21,1159.16 551.2,1158.49 553.18,1157.81 555.17,1157.13 557.16,1156.45 559.14,1155.76 561.13,1155.08 563.12,1154.4 565.1,1153.71 567.09,1153.02 569.08,1152.33 571.06,1151.64 573.05,1150.95 575.03,1150.25 577.02,1149.55 579.01,1148.85 580.99,1148.15 582.98,1147.44 584.97,1146.74 586.95,1146.03 588.94,1145.31 590.92,1144.6 592.91,1143.88 594.9,1143.16 596.88,1142.43 598.87,1141.7 600.86,1140.97 602.84,1140.24 604.83,1139.5 606.81,1138.76 608.8,1138.01 610.79,1137.26 612.77,1136.51 614.76,1135.75 616.75,1134.99 618.73,1134.22 620.72,1133.45 622.7,1132.67 624.69,1131.89 626.68,1131.11 628.66,1130.32 630.65,1129.52 632.63,1128.72 634.62,1127.92 636.61,1127.11 638.59,1126.29 640.58,1125.47 642.57,1124.65 644.55,1123.81 646.54,1122.98 648.53,1122.13 650.51,1121.29 652.5,1120.43 654.48,1119.57 656.47,1118.71 658.46,1117.84 660.44,1116.96 662.43,1116.08 664.41,1115.2 666.4,1114.31 668.39,1113.41 670.37,1112.51 672.36,1111.61 674.35,1110.7 676.33,1109.79 678.32,1108.87 680.31,1107.95 682.29,1107.03 684.28,1106.1 686.26,1105.16 688.25,1104.23 690.24,1103.29 692.22,1102.34 694.21,1101.39 696.19,1100.44 698.18,1099.49 700.17,1098.53 702.15,1097.57 704.14,1096.6 706.13,1095.63 708.11,1094.66 710.1,1093.69 712.09,1092.71 714.07,1091.73 716.06,1090.75 718.04,1089.76 720.03,1088.78 722.02,1087.79 724,1086.8 725.99,1085.8 727.98,1084.81 729.96,1083.81 731.95,1082.81 733.93,1081.8 735.92,1080.8 737.91,1079.79 739.89,1078.79 741.88,1077.78 743.87,1076.77 745.85,1075.76 747.84,1074.74 749.82,1073.73 751.81,1072.71 753.8,1071.7 755.78,1070.68 757.77,1069.66 759.75,1068.64 761.74,1067.63 763.73,1066.61 765.71,1065.58 767.7,1064.56 769.69,1063.54 771.67,1062.52 773.66,1061.5 775.64,1060.48 777.63,1059.46 779.62,1058.44 781.6,1057.41 783.59,1056.39 785.58,1055.37 787.56,1054.35 789.55,1053.33 791.54,1052.31 793.52,1051.3 795.51,1050.28 797.49,1049.26 799.48,1048.25 801.47,1047.23 803.45,1046.22 805.44,1045.21 807.43,1044.2 809.41,1043.19 811.4,1042.18 813.38,1041.17 815.37,1040.17 817.36,1039.17 819.34,1038.17 821.33,1037.17 823.32,1036.17 825.3,1035.18 827.29,1034.18 829.27,1033.19 831.26,1032.2 833.25,1031.22 835.23,1030.23 837.22,1029.25 839.21,1028.27 841.19,1027.29 843.18,1026.31 845.16,1025.34 847.15,1024.37 849.14,1023.4 851.12,1022.43 853.11,1021.47 855.1,1020.5 857.08,1019.54 859.07,1018.58 861.05,1017.63 863.04,1016.67 865.03,1015.72 867.01,1014.77 869,1013.82 870.99,1012.88 872.97,1011.93 874.96,1010.99 876.94,1010.05 878.93,1009.12 880.92,1008.18 882.9,1007.25 884.89,1006.32 886.88,1005.4 888.86,1004.47 890.85,1003.55 892.83,1002.63 894.82,1001.71 896.81,1000.8 898.79,999.89 900.78,998.98 902.76,998.07 904.75,997.17 906.74,996.26 908.72,995.36 910.71,994.47 912.7,993.57 914.68,992.68 916.67,991.79 918.65,990.9 920.64,990.02 922.63,989.14 924.61,988.26 926.6,987.38 928.59,986.51 930.57,985.64 932.56,984.77 934.55,983.9 936.53,983.04 938.52,982.18 940.5,981.32 942.49,980.46 944.48,979.61 946.46,978.76 948.45,977.91 950.44,977.07 952.42,976.23 954.41,975.39 956.39,974.55 958.38,973.72 960.37,972.89 962.35,972.06 964.34,971.24 966.33,970.41 968.31,969.59 970.3,968.78 972.28,967.96 974.27,967.15 976.26,966.35 978.24,965.54 980.23,964.74 982.22,963.94 984.2,963.14 986.19,962.35 988.17,961.56 990.16,960.77 992.15,959.99 994.13,959.21 996.12,958.43 998.11,957.66 1000.09,956.88 1002.08,956.11 1004.06,955.35 1006.05,954.58 1008.04,953.82 1010.02,953.07 1012.01,952.31 1014,951.56 1015.98,950.8 1017.97,950.05 1019.95,949.31 1021.94,948.56 1023.93,947.82 1025.91,947.08 1027.9,946.34 1029.88,945.6 1031.87,944.86 1033.86,944.12 1035.84,943.39 1037.83,942.66 1039.82,941.92 1041.8,941.19 1043.79,940.46 1045.78,939.73 1047.76,939 1049.75,938.28 1051.73,937.55 1053.72,936.82 1055.71,936.09 1057.69,935.37 1059.68,934.64 1061.66,933.91 1063.65,933.19 1065.64,932.46 1067.62,931.73 1069.61,931 1071.6,930.28 1073.58,929.55 1075.57,928.82 1077.56,928.09 1079.54,927.36 1081.53,926.63 1083.51,925.89 1085.5,925.16 1087.49,924.42 1089.47,923.69 1091.46,922.95 1093.45,922.21 1095.43,921.47 1097.42,920.73 1099.4,919.98 1101.39,919.23 1103.38,918.49 1105.36,917.74 1107.35,916.98 1109.34,916.23 1111.32,915.47 1113.31,914.71 1115.29,913.95 1117.28,913.18 1119.27,912.42 1121.25,911.64 1123.24,910.87 1125.22,910.09 1127.21,909.31 1129.2,908.53 1131.18,907.75 1133.17,906.96 1135.16,906.16 1137.14,905.37 1139.13,904.56 1141.12,903.76 1143.1,902.95 1145.09,902.14 1147.07,901.32 1149.06,900.5 1151.05,899.68 1153.03,898.85 1155.02,898.01 1157.01,897.18 1158.99,896.33 1160.98,895.48 1162.96,894.63 1164.95,893.77 1166.94,892.91 1168.92,892.04 1170.91,891.17 1172.89,890.29 1174.88,889.41 1176.87,888.52 1178.85,887.62 1180.84,886.72 1182.83,885.82 1184.81,884.91 1186.8,884 1188.79,883.08 1190.77,882.15 1192.76,881.22 1194.74,880.29 1196.73,879.35 1198.72,878.41 1200.7,877.47 1202.69,876.52 1204.68,875.56 1206.66,874.61 1208.65,873.65 1210.63,872.68 1212.62,871.72 1214.61,870.75 1216.59,869.77 1218.58,868.8 1220.57,867.82 1222.55,866.84 1224.54,865.85 1226.52,864.86 1228.51,863.88 1230.5,862.88 1232.48,861.89 1234.47,860.89 1236.45,859.9 1238.44,858.9 1240.43,857.9 1242.41,856.89 1244.4,855.89 1246.39,854.88 1248.37,853.88 1250.36,852.87 1252.35,851.86 1254.33,850.85 1256.32,849.84 1258.3,848.83 1260.29,847.81 1262.28,846.8 1264.26,845.79 1266.25,844.78 1268.24,843.76 1270.22,842.75 1272.21,841.74 1274.19,840.73 1276.18,839.71 1278.17,838.7 1280.15,837.69 1282.14,836.68 1284.12,835.67 1286.11,834.66 1288.1,833.66 1290.08,832.65 1292.07,831.64 1294.06,830.64 1296.04,829.64 1298.03,828.64 1300.01,827.64 1302,826.64 1303.99,825.65 1305.97,824.66 1307.96,823.67 1309.95,822.68 1311.93,821.7 1313.92,820.71 1315.9,819.73 1317.89,818.76 1319.88,817.78 1321.86,816.81 1323.85,815.84 1325.84,814.88 1327.82,813.92 1329.81,812.96 1331.8,812.01 1333.78,811.06 1335.77,810.11 1337.75,809.17 1339.74,808.23 1341.73,807.3 1343.71,806.37 1345.7,805.44 1347.68,804.52 1349.67,803.6 1351.66,802.69 1353.64,801.79 1355.63,800.89 1357.62,799.99 1359.6,799.1 1361.59,798.21 1363.58,797.32 1365.56,796.45 1367.55,795.57 1369.53,794.7 1371.52,793.83 1373.51,792.97 1375.49,792.11 1377.48,791.26 1379.47,790.4 1381.45,789.56 1383.44,788.71 1385.42,787.87 1387.41,787.04 1389.4,786.2 1391.38,785.37 1393.37,784.54 1395.36,783.72 1397.34,782.9 1399.33,782.08 1401.31,781.27 1403.3,780.45 1405.29,779.64 1407.27,778.84 1409.26,778.03 1411.25,777.23 1413.23,776.43 1415.22,775.63 1417.2,774.84 1419.19,774.04 1421.18,773.25 1423.16,772.46 1425.15,771.68 1427.13,770.89 1429.12,770.11 1431.11,769.33 1433.09,768.54 1435.08,767.77 1437.07,766.99 1439.05,766.21 1441.04,765.44 1443.03,764.66 1445.01,763.89 1447,763.12 1448.98,762.35 1450.97,761.58 1452.96,760.81 1454.94,760.04 1456.93,759.28 1458.91,758.51 1460.9,757.74 1462.89,756.98 1464.87,756.21 1466.86,755.44 1468.85,754.68 1470.83,753.91 1472.82,753.15 1474.81,752.38 1476.79,751.62 1478.78,750.85 1480.76,750.08 1482.75,749.32 1484.74,748.55 1486.72,747.78 1488.71,747.01 1490.69,746.24 1492.68,745.47 1494.67,744.7 1496.65,743.93 1498.64,743.16 1500.63,742.38 1502.61,741.61 1504.6,740.83 1506.59,740.05 1508.57,739.27 1510.56,738.49 1512.54,737.71 1514.53,736.92 1516.52,736.14 1518.5,735.35 1520.49,734.56 1522.48,733.77 1524.46,732.97 1526.45,732.18 1528.43,731.38 1530.42,730.58 1532.41,729.77 1534.39,728.97 1536.38,728.16 1538.37,727.35 1540.35,726.54 1542.34,725.73 1544.32,724.91 1546.31,724.1 1548.3,723.28 1550.28,722.46 1552.27,721.64 1554.26,720.81 1556.24,719.99 1558.23,719.16 1560.21,718.33 1562.2,717.51 1564.19,716.67 1566.17,715.84 1568.16,715.01 1570.14,714.18 1572.13,713.34 1574.12,712.51 1576.1,711.67 1578.09,710.83 1580.08,709.99 1582.06,709.15 1584.05,708.31 1586.04,707.47 1588.02,706.63 1590.01,705.79 1591.99,704.95 1593.98,704.11 1595.97,703.26 1597.95,702.42 1599.94,701.58 1601.92,700.73 1603.91,699.89 1605.9,699.05 1607.88,698.2 1609.87,697.36 1611.86,696.51 1613.84,695.67 1615.83,694.83 1617.82,693.98 1619.8,693.14 1621.79,692.3 1623.77,691.46 1625.76,690.62 1627.75,689.77 1629.73,688.93 1631.72,688.09 1633.71,687.26 1635.69,686.42 1637.68,685.58 1639.66,684.74 1641.65,683.91 1643.64,683.07 1645.62,682.24 1647.61,681.41 1649.6,680.58 1651.58,679.75 1653.57,678.92 1655.55,678.09 1657.54,677.26 1659.53,676.44 1661.51,675.62 1663.5,674.8 1665.49,673.98 1667.47,673.16 1669.46,672.34 1671.44,671.53 1673.43,670.71 1675.42,669.9 1677.4,669.1 1679.39,668.29 1681.38,667.48 1683.36,666.68 1685.35,665.88 1687.33,665.08 1689.32,664.29 1691.31,663.49 1693.29,662.7 1695.28,661.91 1697.27,661.13 1699.25,660.34 1701.24,659.56 1703.22,658.79 1705.21,658.01 1707.2,657.24 1709.18,656.47 1711.17,655.7 1713.15,654.94 1715.14,654.18 1717.13,653.42 1719.11,652.66 1721.1,651.91 1723.09,651.15 1725.07,650.4 1727.06,649.66 1729.05,648.91 1731.03,648.17 1733.02,647.43 1735,646.69 1736.99,645.96 1738.98,645.23 1740.96,644.5 1742.95,643.77 1744.93,643.04 1746.92,642.32 1748.91,641.6 1750.89,640.88 1752.88,640.16 1754.87,639.44 1756.85,638.73 1758.84,638.02 1760.83,637.31 1762.81,636.6 1764.8,635.89 1766.78,635.19 1768.77,634.48 1770.76,633.78 1772.74,633.08 1774.73,632.39 1776.72,631.69 1778.7,630.99 1780.69,630.3 1782.67,629.61 1784.66,628.92 1786.65,628.23 1788.63,627.55 1790.62,626.86 1792.61,626.18 1794.59,625.49 1796.58,624.81 1798.56,624.13 1800.55,623.45 1802.54,622.78 1804.52,622.1 1806.51,621.43 1808.5,620.75 1810.48,620.08 1812.47,619.41 1814.45,618.74 1816.44,618.07 1818.43,617.4 1820.41,616.73 1822.4,616.06 1824.38,615.4 1826.37,614.73 1828.36,614.07 1830.34,613.41 1832.33,612.74 1834.32,612.08 1836.3,611.42 1838.29,610.76 1840.28,610.1 1842.26,609.44 1844.25,608.79 1846.23,608.13 1848.22,607.47 1850.21,606.81 1852.19,606.16 1854.18,605.5 1856.16,604.85 1858.15,604.19 1860.14,603.54 1862.12,602.88 1864.11,602.23 1866.1,601.57 1868.08,600.92 1870.07,600.27 1872.06,599.61 1874.04,598.96 1876.03,598.31 1878.01,597.65 1880,597" fill="none" stroke="#0000ff" stroke-width="7.7" stroke-linecap="round" stroke-linejoin="round" stroke-dasharray="8.3 16.62" stroke-dashoffset="-0.85"/>
<circle cx="291" cy="1261.3" r="21" fill="#0000ff"/>
<circle cx="467.56" cy="1187.5" r="21" fill="#0000ff"/>
<circle cx="644.11" cy="1124" r="21" fill="#0000ff"/>
<circle cx="820.67" cy="1037.5" r="21" fill="#0000ff"/>
<circle cx="997.22" cy="958" r="21" fill="#0000ff"/>
<circle cx="1173.78" cy="889.9" r="21" fill="#0000ff"/>
<circle cx="1350.33" cy="803.3" r="21" fill="#0000ff"/>
<circle cx="1526.89" cy="732" r="21" fill="#0000ff"/>
<circle cx="1703.44" cy="658.7" r="21" fill="#0000ff"/>
<circle cx="1880" cy="597" r="21" fill="#0000ff"/>
<polyline points="291,1259.6 292.99,1258.68 294.97,1257.76 296.96,1256.84 298.94,1255.92 300.93,1255 302.92,1254.07 304.9,1253.15 306.89,1252.23 308.88,1251.31 310.86,1250.39 312.85,1249.47 314.83,1248.55 316.82,1247.63 318.81,1246.71 320.79,1245.8 322.78,1244.88 324.77,1243.96 326.75,1243.04 328.74,1242.12 330.73,1241.2 332.71,1240.29 334.7,1239.37 336.68,1238.45 338.67,1237.54 340.66,1236.62 342.64,1235.71 344.63,1234.79 346.62,1233.88 348.6,1232.96 350.59,1232.05 352.57,1231.14 354.56,1230.23 356.55,1229.31 358.53,1228.4 360.52,1227.49 362.5,1226.58 364.49,1225.67 366.48,1224.76 368.46,1223.86 370.45,1222.95 372.44,1222.04 374.42,1221.14 376.41,1220.23 378.39,1219.33 380.38,1218.42 382.37,1217.52 384.35,1216.62 386.34,1215.72 388.33,1214.82 390.31,1213.92 392.3,1213.02 394.28,1212.12 396.27,1211.23 398.26,1210.33 400.24,1209.44 402.23,1208.54 404.22,1207.65 406.2,1206.76 408.19,1205.87 410.18,1204.98 412.16,1204.09 414.15,1203.2 416.13,1202.31 418.12,1201.43 420.11,1200.54 422.09,1199.66 424.08,1198.78 426.06,1197.9 428.05,1197.02 430.04,1196.14 432.02,1195.26 434.01,1194.39 436,1193.51 437.98,1192.64 439.97,1191.77 441.96,1190.9 443.94,1190.03 445.93,1189.16 447.91,1188.29 449.9,1187.43 451.89,1186.56 453.87,1185.7 455.86,1184.84 457.85,1183.98 459.83,1183.12 461.82,1182.27 463.8,1181.41 465.79,1180.56 467.78,1179.71 469.76,1178.86 471.75,1178.01 473.74,1177.16 475.72,1176.31 477.71,1175.47 479.69,1174.63 481.68,1173.78 483.67,1172.94 485.65,1172.11 487.64,1171.27 489.62,1170.43 491.61,1169.6 493.6,1168.76 495.58,1167.93 497.57,1167.1 499.56,1166.27 501.54,1165.44 503.53,1164.61 505.51,1163.79 507.5,1162.96 509.49,1162.13 511.47,1161.31 513.46,1160.49 515.45,1159.67 517.43,1158.85 519.42,1158.03 521.4,1157.21 523.39,1156.39 525.38,1155.57 527.36,1154.75 529.35,1153.94 531.34,1153.12 533.32,1152.31 535.31,1151.5 537.3,1150.68 539.28,1149.87 541.27,1149.06 543.25,1148.25 545.24,1147.44 547.23,1146.63 549.21,1145.82 551.2,1145.01 553.18,1144.2 555.17,1143.39 557.16,1142.58 559.14,1141.77 561.13,1140.97 563.12,1140.16 565.1,1139.35 567.09,1138.55 569.08,1137.74 571.06,1136.94 573.05,1136.13 575.03,1135.32 577.02,1134.52 579.01,1133.71 580.99,1132.91 582.98,1132.1 584.97,1131.3 586.95,1130.49 588.94,1129.69 590.92,1128.88 592.91,1128.08 594.9,1127.27 596.88,1126.47 598.87,1125.66 600.86,1124.85 602.84,1124.05 604.83,1123.24 606.81,1122.43 608.8,1121.63 610.79,1120.82 612.77,1120.01 614.76,1119.2 616.75,1118.4 618.73,1117.59 620.72,1116.78 622.7,1115.97 624.69,1115.16 626.68,1114.35 628.66,1113.53 630.65,1112.72 632.63,1111.91 634.62,1111.1 636.61,1110.28 638.59,1109.47 640.58,1108.65 642.57,1107.84 644.55,1107.02 646.54,1106.2 648.53,1105.38 650.51,1104.56 652.5,1103.74 654.48,1102.92 656.47,1102.1 658.46,1101.28 660.44,1100.45 662.43,1099.63 664.41,1098.81 666.4,1097.98 668.39,1097.16 670.37,1096.33 672.36,1095.5 674.35,1094.68 676.33,1093.85 678.32,1093.02 680.31,1092.19 682.29,1091.36 684.28,1090.53 686.26,1089.7 688.25,1088.87 690.24,1088.04 692.22,1087.2 694.21,1086.37 696.19,1085.54 698.18,1084.71 700.17,1083.87 702.15,1083.04 704.14,1082.2 706.13,1081.37 708.11,1080.53 710.1,1079.7 712.09,1078.86 714.07,1078.03 716.06,1077.19 718.04,1076.35 720.03,1075.51 722.02,1074.68 724,1073.84 725.99,1073 727.98,1072.16 729.96,1071.33 731.95,1070.49 733.93,1069.65 735.92,1068.81 737.91,1067.97 739.89,1067.13 741.88,1066.29 743.87,1065.46 745.85,1064.62 747.84,1063.78 749.82,1062.94 751.81,1062.1 753.8,1061.26 755.78,1060.42 757.77,1059.58 759.75,1058.74 761.74,1057.9 763.73,1057.06 765.71,1056.22 767.7,1055.39 769.69,1054.55 771.67,1053.71 773.66,1052.87 775.64,1052.03 777.63,1051.19 779.62,1050.36 781.6,1049.52 783.59,1048.68 785.58,1047.84 787.56,1047.01 789.55,1046.17 791.54,1045.33 793.52,1044.5 795.51,1043.66 797.49,1042.82 799.48,1041.99 801.47,1041.15 803.45,1040.32 805.44,1039.48 807.43,1038.65 809.41,1037.82 811.4,1036.98 813.38,1036.15 815.37,1035.32 817.36,1034.49 819.34,1033.65 821.33,1032.82 823.32,1031.99 825.3,1031.16 827.29,1030.33 829.27,1029.5 831.26,1028.68 833.25,1027.85 835.23,1027.02 837.22,1026.19 839.21,1025.36 841.19,1024.54 843.18,1023.71 845.16,1022.89 847.15,1022.06 849.14,1021.23 851.12,1020.41 853.11,1019.58 855.1,1018.76 857.08,1017.93 859.07,1017.11 861.05,1016.29 863.04,1015.46 865.03,1014.64 867.01,1013.82 869,1012.99 870.99,1012.17 872.97,1011.35 874.96,1010.52 876.94,1009.7 878.93,1008.88 880.92,1008.06 882.9,1007.23 884.89,1006.41 886.88,1005.59 888.86,1004.77 890.85,1003.94 892.83,1003.12 894.82,1002.3 896.81,1001.48 898.79,1000.65 900.78,999.83 902.76,999.01 904.75,998.18 906.74,997.36 908.72,996.54 910.71,995.71 912.7,994.89 914.68,994.07 916.67,993.24 918.65,992.42 920.64,991.6 922.63,990.77 924.61,989.95 926.6,989.12 928.59,988.3 930.57,987.47 932.56,986.64 934.55,985.82 936.53,984.99 938.52,984.17 940.5,983.34 942.49,982.51 944.48,981.68 946.46,980.85 948.45,980.02 950.44,979.2 952.42,978.37 954.41,977.54 956.39,976.7 958.38,975.87 960.37,975.04 962.35,974.21 964.34,973.38 966.33,972.54 968.31,971.71 970.3,970.88 972.28,970.04 974.27,969.21 976.26,968.37 978.24,967.53 980.23,966.69 982.22,965.86 984.2,965.02 986.19,964.18 988.17,963.34 990.16,962.5 992.15,961.65 994.13,960.81 996.12,959.97 998.11,959.12 1000.09,958.28 1002.08,957.43 1004.06,956.59 1006.05,955.74 1008.04,954.89 1010.02,954.04 1012.01,953.19 1014,952.34 1015.98,951.49 1017.97,950.64 1019.95,949.79 1021.94,948.93 1023.93,948.08 1025.91,947.22 1027.9,946.37 1029.88,945.51 1031.87,944.65 1033.86,943.79 1035.84,942.93 1037.83,942.07 1039.82,941.21 1041.8,940.35 1043.79,939.48 1045.78,938.62 1047.76,937.75 1049.75,936.89 1051.73,936.02 1053.72,935.15 1055.71,934.28 1057.69,933.41 1059.68,932.54 1061.66,931.67 1063.65,930.79 1065.64,929.92 1067.62,929.04 1069.61,928.17 1071.6,927.29 1073.58,926.41 1075.57,925.53 1077.56,924.65 1079.54,923.77 1081.53,922.89 1083.51,922.01 1085.5,921.12 1087.49,920.24 1089.47,919.35 1091.46,918.46 1093.45,917.58 1095.43,916.69 1097.42,915.8 1099.4,914.91 1101.39,914.01 1103.38,913.12 1105.36,912.22 1107.35,911.33 1109.34,910.43 1111.32,909.53 1113.31,908.63 1115.29,907.73 1117.28,906.83 1119.27,905.93 1121.25,905.03 1123.24,904.12 1125.22,903.22 1127.21,902.31 1129.2,901.4 1131.18,900.49 1133.17,899.58 1135.16,898.67 1137.14,897.76 1139.13,896.84 1141.12,895.93 1143.1,895.01 1145.09,894.09 1147.07,893.17 1149.06,892.25 1151.05,891.33 1153.03,890.41 1155.02,889.49 1157.01,888.56 1158.99,887.63 1160.98,886.71 1162.96,885.78 1164.95,884.85 1166.94,883.92 1168.92,882.98 1170.91,882.05 1172.89,881.12 1174.88,880.18 1176.87,879.24 1178.85,878.3 1180.84,877.36 1182.83,876.42 1184.81,875.48 1186.8,874.54 1188.79,873.59 1190.77,872.65 1192.76,871.7 1194.74,870.76 1196.73,869.81 1198.72,868.86 1200.7,867.91 1202.69,866.97 1204.68,866.02 1206.66,865.07 1208.65,864.12 1210.63,863.17 1212.62,862.22 1214.61,861.26 1216.59,860.31 1218.58,859.36 1220.57,858.41 1222.55,857.46 1224.54,856.51 1226.52,855.56 1228.51,854.61 1230.5,853.66 1232.48,852.71 1234.47,851.76 1236.45,850.81 1238.44,849.86 1240.43,848.91 1242.41,847.96 1244.4,847.02 1246.39,846.07 1248.37,845.12 1250.36,844.18 1252.35,843.23 1254.33,842.29 1256.32,841.35 1258.3,840.41 1260.29,839.47 1262.28,838.53 1264.26,837.59 1266.25,836.65 1268.24,835.72 1270.22,834.79 1272.21,833.85 1274.19,832.92 1276.18,831.99 1278.17,831.06 1280.15,830.14 1282.14,829.21 1284.12,828.29 1286.11,827.37 1288.1,826.45 1290.08,825.53 1292.07,824.62 1294.06,823.71 1296.04,822.79 1298.03,821.88 1300.01,820.98 1302,820.07 1303.99,819.17 1305.97,818.27 1307.96,817.37 1309.95,816.48 1311.93,815.59 1313.92,814.7 1315.9,813.81 1317.89,812.92 1319.88,812.04 1321.86,811.16 1323.85,810.29 1325.84,809.41 1327.82,808.54 1329.81,807.67 1331.8,806.81 1333.78,805.95 1335.77,805.09 1337.75,804.24 1339.74,803.38 1341.73,802.54 1343.71,801.69 1345.7,800.85 1347.68,800.01 1349.67,799.18 1351.66,798.35 1353.64,797.52 1355.63,796.7 1357.62,795.88 1359.6,795.06 1361.59,794.25 1363.58,793.44 1365.56,792.63 1367.55,791.82 1369.53,791.02 1371.52,790.22 1373.51,789.43 1375.49,788.64 1377.48,787.85 1379.47,787.06 1381.45,786.27 1383.44,785.49 1385.42,784.71 1387.41,783.93 1389.4,783.16 1391.38,782.38 1393.37,781.61 1395.36,780.84 1397.34,780.07 1399.33,779.3 1401.31,778.54 1403.3,777.78 1405.29,777.01 1407.27,776.25 1409.26,775.49 1411.25,774.74 1413.23,773.98 1415.22,773.22 1417.2,772.47 1419.19,771.72 1421.18,770.96 1423.16,770.21 1425.15,769.46 1427.13,768.71 1429.12,767.96 1431.11,767.21 1433.09,766.46 1435.08,765.71 1437.07,764.96 1439.05,764.21 1441.04,763.46 1443.03,762.72 1445.01,761.97 1447,761.22 1448.98,760.47 1450.97,759.72 1452.96,758.97 1454.94,758.22 1456.93,757.47 1458.91,756.72 1460.9,755.96 1462.89,755.21 1464.87,754.46 1466.86,753.7 1468.85,752.94 1470.83,752.19 1472.82,751.43 1474.81,750.67 1476.79,749.91 1478.78,749.14 1480.76,748.38 1482.75,747.61 1484.74,746.85 1486.72,746.08 1488.71,745.3 1490.69,744.53 1492.68,743.76 1494.67,742.98 1496.65,742.2 1498.64,741.42 1500.63,740.63 1502.61,739.85 1504.6,739.06 1506.59,738.26 1508.57,737.47 1510.56,736.67 1512.54,735.87 1514.53,735.07 1516.52,734.26 1518.5,733.45 1520.49,732.64 1522.48,731.82 1524.46,731.01 1526.45,730.18 1528.43,729.36 1530.42,728.53 1532.41,727.7 1534.39,726.86 1536.38,726.02 1538.37,725.18 1540.35,724.33 1542.34,723.48 1544.32,722.63 1546.31,721.78 1548.3,720.92 1550.28,720.06 1552.27,719.2 1554.26,718.33 1556.24,717.46 1558.23,716.59 1560.21,715.72 1562.2,714.84 1564.19,713.96 1566.17,713.08 1568.16,712.2 1570.14,711.31 1572.13,710.43 1574.12,709.54 1576.1,708.65 1578.09,707.75 1580.08,706.86 1582.06,705.96 1584.05,705.06 1586.04,704.16 1588.02,703.26 1590.01,702.36 1591.99,701.45 1593.98,700.55 1595.97,699.64 1597.95,698.73 1599.94,697.82 1601.92,696.91 1603.91,696 1605.9,695.08 1607.88,694.17 1609.87,693.25 1611.86,692.34 1613.84,691.42 1615.83,690.5 1617.82,689.59 1619.8,688.67 1621.79,687.75 1623.77,686.83 1625.76,685.91 1627.75,684.99 1629.73,684.07 1631.72,683.15 1633.71,682.23 1635.69,681.3 1637.68,680.38 1639.66,679.46 1641.65,678.54 1643.64,677.62 1645.62,676.7 1647.61,675.78 1649.6,674.86 1651.58,673.94 1653.57,673.02 1655.55,672.1 1657.54,671.19 1659.53,670.27 1661.51,669.35 1663.5,668.44 1665.49,667.52 1667.47,666.61 1669.46,665.7 1671.44,664.78 1673.43,663.87 1675.42,662.96 1677.4,662.06 1679.39,661.15 1681.38,660.25 1683.36,659.34 1685.35,658.44 1687.33,657.54 1689.32,656.64 1691.31,655.74 1693.29,654.85 1695.28,653.95 1697.27,653.06 1699.25,652.17 1701.24,651.28 1703.22,650.4 1705.21,649.51 1707.2,648.63 1709.18,647.75 1711.17,646.88 1713.15,646 1715.14,645.13 1717.13,644.26 1719.11,643.39 1721.1,642.52 1723.09,641.66 1725.07,640.79 1727.06,639.93 1729.05,639.07 1731.03,638.22 1733.02,637.36 1735,636.51 1736.99,635.65 1738.98,634.8 1740.96,633.96 1742.95,633.11 1744.93,632.26 1746.92,631.42 1748.91,630.58 1750.89,629.74 1752.88,628.9 1754.87,628.06 1756.85,627.23 1758.84,626.39 1760.83,625.56 1762.81,624.73 1764.8,623.9 1766.78,623.07 1768.77,622.24 1770.76,621.42 1772.74,620.59 1774.73,619.77 1776.72,618.95 1778.7,618.13 1780.69,617.31 1782.67,616.49 1784.66,615.67 1786.65,614.86 1788.63,614.04 1790.62,613.23 1792.61,612.42 1794.59,611.61 1796.58,610.8 1798.56,609.99 1800.55,609.18 1802.54,608.37 1804.52,607.57 1806.51,606.76 1808.5,605.96 1810.48,605.16 1812.47,604.35 1814.45,603.55 1816.44,602.75 1818.43,601.95 1820.41,601.15 1822.4,600.35 1824.38,599.55 1826.37,598.76 1828.36,597.96 1830.34,597.16 1832.33,596.37 1834.32,595.57 1836.3,594.78 1838.29,593.99 1840.28,593.19 1842.26,592.4 1844.25,591.61 1846.23,590.82 1848.22,590.03 1850.21,589.23 1852.19,588.44 1854.18,587.65 1856.16,586.86 1858.15,586.07 1860.14,585.28 1862.12,584.5 1864.11,583.71 1866.1,582.92 1868.08,582.13 1870.07,581.34 1872.06,580.55 1874.04,579.76 1876.03,578.98 1878.01,578.19 1880,577.4" fill="none" stroke="#ff00ff" stroke-width="7.7" stroke-linecap="round" stroke-linejoin="round" stroke-dasharray="8.3 16.62" stroke-dashoffset="-0.85"/>
<circle cx="291" cy="1259.6" r="21" fill="#800000"/>
<circle cx="467.56" cy="1179.8" r="21" fill="#800000"/>
<circle cx="644.11" cy="1107.2" r="21" fill="#800000"/>
<circle cx="820.67" cy="1033.1" r="21" fill="#800000"/>
<circle cx="997.22" cy="959.5" r="21" fill="#800000"/>
<circle cx="1173.78" cy="880.7" r="21" fill="#800000"/>
<circle cx="1350.33" cy="798.9" r="21" fill="#800000"/>
<circle cx="1526.89" cy="730" r="21" fill="#800000"/>
<circle cx="1703.44" cy="650.3" r="21" fill="#800000"/>
<circle cx="1880" cy="577.4" r="21" fill="#800000"/>
</g>
<rect x="354.6" y="69" width="509.8" height="346.8" fill="#fff" stroke="#000" stroke-width="3"/>
<line x1="413.9" y1="144.1" x2="545.3" y2="144.1" stroke="#ff0000" stroke-width="8" stroke-linecap="round" stroke-dasharray="8 16.64" stroke-dashoffset="0.5"/>
<circle cx="484.8" cy="144.9" r="21" fill="#ff0000"/>
<text transform="translate(573.4 165.4) scale(1 0.99)" font-size="65.1" letter-spacing="0" style="stroke-width:1.8">ZEEP</text>
<line x1="413.9" y1="222.3" x2="545.3" y2="222.3" stroke="#ff00ff" stroke-width="8" stroke-linecap="round" stroke-dasharray="8 16.64" stroke-dashoffset="0.5"/>
<circle cx="484.8" cy="223.1" r="21" fill="#ff00ff"/>
<text transform="translate(573.4 243) scale(1 0.99)" font-size="65.1" letter-spacing="0" style="stroke-width:1.8">TARS</text>
<line x1="413.9" y1="300.6" x2="545.3" y2="300.6" stroke="#0000ff" stroke-width="8" stroke-linecap="round" stroke-dasharray="8 16.64" stroke-dashoffset="0.5"/>
<circle cx="484.8" cy="301.4" r="21" fill="#0000ff"/>
<text transform="translate(573.4 322) scale(1 0.99)" font-size="65.1" letter-spacing="-0.6" style="stroke-width:1.8">SMOC</text>
<line x1="413.9" y1="378.9" x2="545.3" y2="378.9" stroke="#ff00ff" stroke-width="8" stroke-linecap="round" stroke-dasharray="8 16.64" stroke-dashoffset="0.5"/>
<circle cx="484.8" cy="379.7" r="21" fill="#800000"/>
<text transform="translate(573.4 400.1) scale(1 0.99)" font-size="65.1" letter-spacing="-0.5" style="stroke-width:1.8">M-SMOC</text>
<text transform="translate(250.4 1354.2) scale(0.96 1.02)" font-size="54" letter-spacing="1.09" text-anchor="end">0</text>
<text transform="translate(250.4 1202.14) scale(0.96 1.02)" font-size="54" letter-spacing="1.09" text-anchor="end">200</text>
<text transform="translate(250.4 1050.08) scale(0.96 1.02)" font-size="54" letter-spacing="1.09" text-anchor="end">400</text>
<text transform="translate(250.4 898.02) scale(0.96 1.02)" font-size="54" letter-spacing="1.09" text-anchor="end">600</text>
<text transform="translate(250.4 745.96) scale(0.96 1.02)" font-size="54" letter-spacing="1.09" text-anchor="end">800</text>
<text transform="translate(250.4 593.9) scale(0.96 1.02)" font-size="54" letter-spacing="1.09" text-anchor="end">1000</text>
<text transform="translate(250.4 441.84) scale(0.96 1.02)" font-size="54" letter-spacing="1.09" text-anchor="end">1200</text>
<text transform="translate(250.4 289.78) scale(0.96 1.02)" font-size="54" letter-spacing="1.09" text-anchor="end">1400</text>
<text transform="translate(250.4 137.72) scale(0.96 1.02)" font-size="54" letter-spacing="1.09" text-anchor="end">1600</text>
<text transform="translate(467.76 1420) scale(0.96 1.02)" font-size="54" letter-spacing="1.09" text-anchor="middle">1000</text>
<text transform="translate(820.87 1420) scale(0.96 1.02)" font-size="54" letter-spacing="1.09" text-anchor="middle">2000</text>
<text transform="translate(1173.98 1420) scale(0.96 1.02)" font-size="54" letter-spacing="1.09" text-anchor="middle">3000</text>
<text transform="translate(1527.09 1420) scale(0.96 1.02)" font-size="54" letter-spacing="1.09" text-anchor="middle">4000</text>
<text transform="translate(1880.2 1420) scale(0.96 1.02)" font-size="54" letter-spacing="1.09" text-anchor="middle">5000</text>
<text transform="translate(1086.2 1516.7) scale(1 0.99)" font-size="65.1" text-anchor="middle" style="stroke-width:1.8">Number of Rounds</text>
<text transform="translate(104.4 689.8) rotate(-90) scale(1 0.99)" font-size="65.1" text-anchor="middle" style="stroke-width:1.8">Delay (Milliseconds)</text>
</svg>
</body></html>
